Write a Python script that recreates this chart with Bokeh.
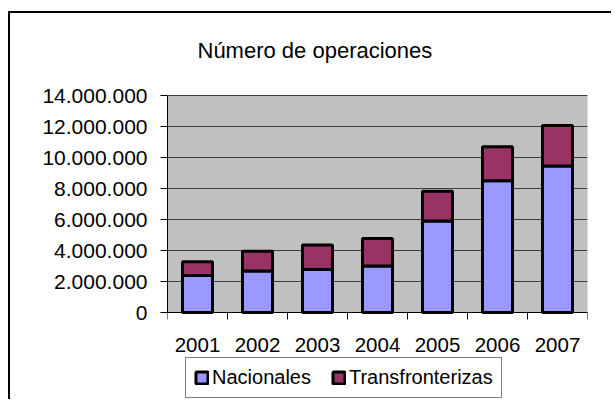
from bokeh.plotting import figure
from bokeh.models import (Range1d, FixedTicker, Legend, LegendItem, ColumnDataSource,
                          BoxAnnotation, Label)
from bokeh.embed import file_html
from bokeh.resources import INLINE

# ---- data ----
years = ["2001", "2002", "2003", "2004", "2005", "2006", "2007"]
nacionales = [2380000, 2670000, 2780000, 3000000, 5900000, 8500000, 9450000]
transfronterizas = [900000, 1280000, 1570000, 1780000, 1920000, 2200000, 2620000]
y_ticks = [0, 2000000, 4000000, 6000000, 8000000, 10000000, 12000000, 14000000]
y_tick_labels = ["0", "2.000.000", "4.000.000", "6.000.000", "8.000.000",
                 "10.000.000", "12.000.000", "14.000.000"]
title_text = "Número de operaciones"

FONT = "Liberation Sans"

# ---- layout (canvas pixels) ----
W, H = 603, 388
FRAME_LEFT, FRAME_RIGHT = 157, 577
TOP_PX = 82              # pixel row of the highest tick
ZERO_PX = 299            # pixel row of value 0
TITLE_BASE_PX = 37       # pixel row of the title anchor
TITLE_LEFT_PX = 187      # pixel column where the title starts
y_top = y_ticks[-1]
px_per_unit = (ZERO_PX - TOP_PX) / y_top
y_max = y_top + TOP_PX / px_per_unit          # frame reaches the canvas top
y_min = -(H - ZERO_PX) / px_per_unit          # and the canvas bottom
n = len(years)
px_per_cat = (FRAME_RIGHT - FRAME_LEFT) / n

xs = [i + 0.5 for i in range(n)]
source = ColumnDataSource(dict(x=xs, nac=nacionales, tra=transfronterizas))

p = figure(width=W, height=H,
           x_range=Range1d(0, n), y_range=Range1d(y_min, y_max),
           output_backend="svg", toolbar_location=None,
           min_border_left=FRAME_LEFT, min_border_right=W - FRAME_RIGHT,
           min_border_top=0, min_border_bottom=0)

p.styles = {"border-left": "2px solid black", "border-top": "2px solid black",
            "margin-left": "8px", "margin-top": "11px"}

p.background_fill_color = "white"
p.border_fill_color = "white"
p.outline_line_color = None

# gray plot area
plot_area = BoxAnnotation(bottom=0, top=y_top, fill_color="#C0C0C0", fill_alpha=1,
                          line_color="#808080", line_width=1, level="image")
p.add_layout(plot_area)

# title
title = Label(x=(TITLE_LEFT_PX - FRAME_LEFT) / px_per_cat,
              y=y_top + (TOP_PX - TITLE_BASE_PX) / px_per_unit,
              text=title_text, text_font=FONT, text_font_size="22px",
              text_color="black", text_align="left", text_baseline="alphabetic")
p.add_layout(title)

rs = p.vbar_stack(["nac", "tra"], x="x", width=0.5, source=source,
                  fill_color=["#9999FF", "#993366"], line_color="black",
                  line_width=3)

# x axis: labels at centers, ticks at category boundaries
xa = p.xaxis[0]
xa.fixed_location = 0
xa.ticker = FixedTicker(ticks=xs, minor_ticks=list(range(n + 1)))
xa.major_label_overrides = {x: y for x, y in zip(xs, years)}
xa.major_tick_line_color = None
xa.major_tick_out = 7
xa.major_tick_in = 0
xa.minor_tick_out = 7
xa.minor_tick_in = 0
xa.minor_tick_line_color = "black"
xa.axis_line_color = "black"
xa.major_label_standoff = 18
xa.major_label_text_font = FONT
xa.major_label_text_font_size = "20.5px"
xa.major_label_text_color = "black"

ya = p.yaxis[0]
ya.bounds = (0, y_top)
ya.ticker = FixedTicker(ticks=y_ticks, minor_ticks=[])
ya.major_label_overrides = {t: s for t, s in zip(y_ticks, y_tick_labels)}
ya.major_tick_out = 7
ya.major_tick_in = 0
ya.major_tick_line_color = "black"
ya.minor_tick_line_color = None
ya.axis_line_color = "black"
ya.major_label_standoff = 13
ya.major_label_text_font = FONT
ya.major_label_text_font_size = "21px"
ya.major_label_text_color = "black"

p.xgrid.grid_line_color = None
p.ygrid.ticker = FixedTicker(ticks=y_ticks)
p.ygrid.grid_line_color = "#404040"
p.ygrid.grid_line_width = 1

legend = Legend(items=[LegendItem(label="Nacionales", renderers=[rs[0]]),
                       LegendItem(label="Transfronterizas", renderers=[rs[1]])],
                orientation="horizontal", location=(18, 3))
legend.label_text_font = FONT
legend.label_text_font_size = "20px"
legend.label_text_color = "black"
legend.glyph_width = 15
legend.glyph_height = 15
legend.padding = 8
legend.spacing = 20
legend.label_standoff = 3
legend.margin = 0
legend.border_line_color = "black"
legend.border_line_width = 1
legend.background_fill_color = "white"
legend.background_fill_alpha = 1
p.add_layout(legend, "center")

open("out.html", "w").write(file_html(p, INLINE))
